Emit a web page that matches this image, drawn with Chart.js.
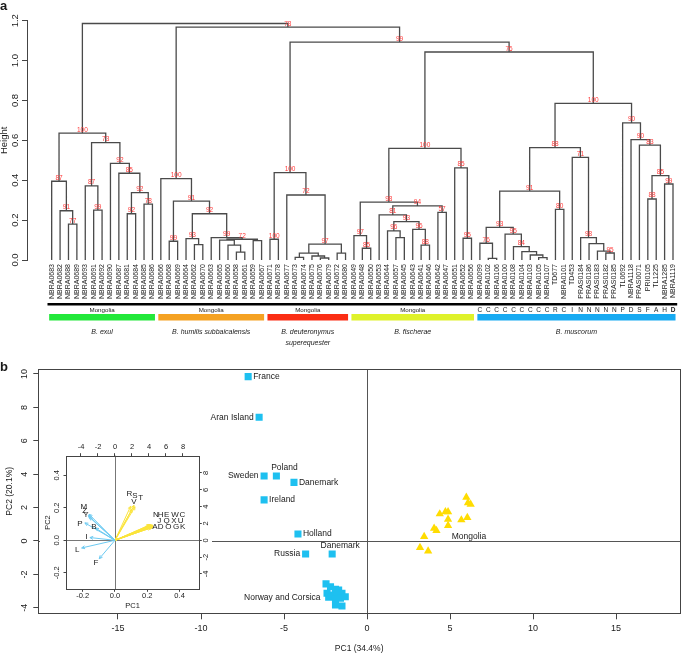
<!DOCTYPE html>
<html>
<head>
<meta charset="utf-8">
<script src="https://cdn.jsdelivr.net/npm/chart.js@4.4.0/dist/chart.umd.min.js"></script>
<style>
  html, body { margin: 0; padding: 0; background: #fff; }
  #wrap { position: relative; width: 685px; height: 654px; overflow: hidden; }
  canvas { position: absolute; }
  #dendro { left: 0; top: 0; }
  #pca { left: 0; top: 360px; }
  #inset { left: 40px; top: 430px; }
</style>
</head>
<body>
<div id="wrap">
  <canvas id="dendro" width="685" height="360"></canvas>
  <canvas id="pca" width="685" height="294"></canvas>
  <canvas id="inset" width="172" height="180"></canvas>
</div>
<script>
const FONT = '"Liberation Sans", Arial, Helvetica, sans-serif';

// ---------- panel a : dendrogram ----------
const leafLabels = [
  'NBRA0683', 'NBRA0682', 'NBRA0688', 'NBRA0689', 'NBRA0693', 'NBRA0691', 'NBRA0692', 'NBRA0690', 'NBRA0687', 'NBRA0681', 'NBRA0684', 'NBRA0685', 'NBRA0686',
  'NBRA0666', 'NBRA0668', 'NBRA0669', 'NBRA0664', 'NBRA0662', 'NBRA0670', 'NBRA0663', 'NBRA0665', 'NBRA0660', 'NBRA0658', 'NBRA0661', 'NBRA0659', 'NBRA0667',
  'NBRA0671', 'NBRA0678', 'NBRA0677', 'NBRA0673', 'NBRA0674', 'NBRA0675', 'NBRA0676', 'NBRA0679', 'NBRA0672', 'NBRA0680',
  'NBRA0649', 'NBRA0648', 'NBRA0650', 'NBRA0653', 'NBRA0644', 'NBRA0657', 'NBRA0645', 'NBRA0643', 'NBRA0641', 'NBRA0646', 'NBRA0642', 'NBRA0647', 'NBRA0651', 'NBRA0652', 'NBRA0656',
  'NBRA0099', 'NBRA0102', 'NBRA0106', 'NBRA0100', 'NBRA0108', 'NBRA0104', 'NBRA0103', 'NBRA0105', 'NBRA0107', 'TD677', 'NBRA0101', 'TD453',
  'PRAS0184', 'PRAS0186', 'PRAS0183', 'PRAS0182', 'PRAS0185', 'TL0692', 'NBRA1118', 'PRAS0071', 'PRI0105', 'TL1225', 'NBRA1285', 'NBRA1119'
];

const groupNames = ['B. exul', 'B. humilis subbaicalensis', 'B. deuteronymus\nsuperequester', 'B. fischerae', 'B. muscorum'];
const groupSizes = [13, 13, 10, 15, 24];
const groupOrigin = ['Mongolia', 'Mongolia', 'Mongolia', 'Mongolia', null];
const muscorumCodes = ['C', 'C', 'C', 'C', 'C', 'C', 'C', 'C', 'C', 'R', 'C', 'I', 'N', 'N', 'N', 'N', 'N', 'P', 'D', 'S', 'F', 'A', 'H', 'D'];

const heightTicks = [0, 0.2, 0.4, 0.6, 0.8, 1.0, 1.2];
const heightTickLabels = ['0.0', '0.2', '0.4', '0.6', '0.8', '1.0', '1.2'];

// [left, right, height, AU]; a child is a leaf label or the index of an earlier merge
const merges = [
  ['NBRA0688', 'NBRA0689', 0.180, 77],
  ['NBRA0682', 0, 0.247, 91],
  ['NBRA0683', 1, 0.395, 87],
  ['NBRA0691', 'NBRA0692', 0.250, 99],
  ['NBRA0693', 3, 0.372, 87],
  ['NBRA0681', 'NBRA0684', 0.232, 92],
  ['NBRA0685', 'NBRA0686', 0.280, 78],
  [5, 6, 0.338, 92],
  ['NBRA0687', 7, 0.435, 85],
  ['NBRA0690', 8, 0.485, 92],
  [4, 9, 0.589, 73],
  [2, 10, 0.636, 100],
  ['NBRA0668', 'NBRA0669', 0.094, 99],
  ['NBRA0662', 'NBRA0670', 0.077, null],
  ['NBRA0664', 13, 0.107, 93],
  ['NBRA0658', 'NBRA0661', 0.039, null],
  ['NBRA0660', 15, 0.075, null],
  ['NBRA0665', 16, 0.100, null],
  ['NBRA0659', 'NBRA0667', 0.097, null],
  [17, 18, 0.104, 72],
  ['NBRA0663', 19, 0.112, 99],
  [14, 20, 0.232, 92],
  [12, 21, 0.295, 91],
  ['NBRA0666', 22, 0.408, 100],
  ['NBRA0671', 'NBRA0678', 0.104, 100],
  ['NBRA0673', 'NBRA0674', 0.013, null],
  ['NBRA0676', 'NBRA0679', 0.010, null],
  ['NBRA0675', 26, 0.020, null],
  [25, 27, 0.034, null],
  ['NBRA0672', 'NBRA0680', 0.034, null],
  [28, 29, 0.080, 97],
  ['NBRA0677', 30, 0.326, 72],
  [24, 31, 0.438, 100],
  ['NBRA0648', 'NBRA0650', 0.059, 85],
  ['NBRA0649', 33, 0.122, 97],
  ['NBRA0657', 'NBRA0645', 0.112, null],
  ['NBRA0644', 35, 0.146, 96],
  ['NBRA0641', 'NBRA0646', 0.075, 88],
  ['NBRA0643', 37, 0.154, 96],
  [36, 38, 0.192, 93],
  ['NBRA0653', 39, 0.226, 81],
  ['NBRA0642', 'NBRA0647', 0.239, 57],
  [40, 41, 0.271, 94],
  [34, 42, 0.290, 98],
  ['NBRA0652', 'NBRA0656', 0.109, 95],
  ['NBRA0651', 44, 0.462, 85],
  [43, 45, 0.560, 100],
  ['NBRA0102', 'NBRA0106', 0.008, null],
  ['NBRA0099', 47, 0.084, 76],
  ['NBRA0105', 'NBRA0107', 0.012, null],
  ['NBRA0103', 49, 0.025, null],
  ['NBRA0104', 50, 0.042, null],
  ['NBRA0108', 51, 0.067, 84],
  ['NBRA0100', 52, 0.130, 95],
  [48, 53, 0.164, 93],
  ['TD677', 'NBRA0101', 0.254, 80],
  [54, 55, 0.345, 91],
  ['PRAS0182', 'PRAS0185', 0.035, 95],
  ['PRAS0183', 57, 0.045, null],
  ['PRAS0186', 58, 0.082, null],
  ['PRAS0184', 59, 0.112, 98],
  ['TD453', 60, 0.515, 71],
  [56, 61, 0.564, 88],
  ['PRI0105', 'TL1225', 0.306, 88],
  ['NBRA1285', 'NBRA1119', 0.381, 99],
  [63, 64, 0.423, 85],
  ['PRAS0071', 65, 0.576, 83],
  ['NBRA1118', 66, 0.604, 90],
  ['TL0692', 67, 0.688, 90],
  [62, 68, 0.785, 100],
  [46, 69, 1.043, 76],
  [32, 70, 1.093, 99],
  [23, 71, 1.168, 78],
  [11, 72, 1.186, null]
];

// ---------- panel b : PCA ----------
const pc1Ticks = [-15, -10, -5, 0, 5, 10, 15];
const pc2Ticks = [-4, -2, 0, 2, 4, 6, 8, 10];

const siteNames = ['France', 'Aran Island', 'Sweden', 'Poland', 'Danemark', 'Ireland', 'Holland', 'Russia', 'Danemark'];
const sitePC1 = [-7.16, -6.50, -6.20, -5.46, -4.40, -6.20, -4.16, -3.70, -2.10];
const sitePC2 = [9.84, 7.41, 3.89, 3.89, 3.51, 2.46, 0.42, -0.78, -0.78];

const norCorPC1 = [-2.47, -2.20, -1.90, -1.71, -2.41, -2.11, -1.81, -1.51, -2.31, -1.90, -1.60, -1.31, -1.90, -1.51];
const norCorPC2 = [-2.57, -2.74, -2.89, -2.93, -3.13, -3.23, -3.23, -3.13, -3.37, -3.49, -3.43, -3.34, -3.83, -3.89];

const mongoliaPC1 = [5.98, 6.08, 6.24, 4.38, 4.72, 4.88, 4.88, 5.68, 6.04, 4.88, 4.04, 4.18, 3.44, 3.19, 3.68];
const mongoliaPC2 = [2.62, 2.29, 2.20, 1.62, 1.75, 1.75, 1.30, 1.26, 1.40, 0.92, 0.76, 0.62, 0.26, -0.40, -0.60];

const clusterLabels = ['Norway and Corsica', 'Mongolia'];
const clusterLabelPC1 = [-2.8, 6.14];
const clusterLabelPC2 = [-3.41, 0.26];

// ---------- inset : biplot loadings ----------
const loadTicks = [-0.2, 0, 0.2, 0.4];
const scoreTicks = [-4, -2, 0, 2, 4, 6, 8];

const blueLetters = ['M', 'Z', 'Y', 'P', 'B', 'I', 'L', 'F'];
const blueLoadPC1 = [-0.160, -0.165, -0.158, -0.186, -0.120, -0.155, -0.206, -0.097];
const blueLoadPC2 = [0.160, 0.152, 0.142, 0.107, 0.075, 0.017, -0.047, -0.113];
const blueTextPC1 = [-0.192, -0.188, -0.180, -0.217, -0.130, -0.175, -0.233, -0.118];
const blueTextPC2 = [0.209, 0.180, 0.160, 0.103, 0.082, 0.020, -0.057, -0.140];

const yellowLetters = ['R', 'S', 'T', 'V', 'N', 'H', 'E', 'W', 'C', 'J', 'Q', 'X', 'U', 'A', 'D', 'O', 'G', 'K'];
const yellowLoadPC1 = [0.097, 0.118, 0.124, 0.106, 0.214, 0.221, 0.226, 0.232, 0.236, 0.212, 0.219, 0.225, 0.230, 0.206, 0.213, 0.220, 0.228, 0.235];
const yellowLoadPC2 = [0.209, 0.215, 0.206, 0.190, 0.094, 0.096, 0.092, 0.094, 0.090, 0.086, 0.088, 0.085, 0.087, 0.078, 0.080, 0.076, 0.079, 0.082];
const yellowTextPC1 = [0.089, 0.124, 0.159, 0.118, 0.254, 0.283, 0.320, 0.372, 0.417, 0.274, 0.320, 0.365, 0.407, 0.248, 0.283, 0.330, 0.378, 0.419];
const yellowTextPC2 = [0.287, 0.271, 0.263, 0.236, 0.154, 0.154, 0.154, 0.154, 0.154, 0.117, 0.117, 0.117, 0.117, 0.082, 0.082, 0.082, 0.082, 0.082];

// ---------- helpers ----------
const groupColors = ['#22e83a', '#f5a222', '#fb2d14', '#dff22a', '#17aaf2'];
const BLUE = '#1ec0f0';
const GOLD = '#ffdc00';
const TEXT = '#1a1a1a';

const fixedTicks = (vals) => (scale) => { scale.ticks = vals.map(v => ({ value: v })); };

function rotatedText(ctx, text, x, y) {
  ctx.save();
  ctx.translate(x, y);
  ctx.rotate(-Math.PI / 2);
  ctx.fillText(text, 0, 0);
  ctx.restore();
}

const baseOptions = {
  responsive: false,
  animation: false,
  devicePixelRatio: 1,
  events: [],
  plugins: { legend: { display: false }, tooltip: { enabled: false } }
};

// ---------- dendrogram geometry from merges ----------
const leafIndex = {};
leafLabels.forEach((l, i) => { leafIndex[l] = i; });
const nodeX = [];
function childPos(c) {
  return typeof c === 'string' ? [leafIndex[c], 0] : [nodeX[c], merges[c][2]];
}
const linkPoints = [];
merges.forEach(([a, b, h], k) => {
  const [xa, ha] = childPos(a);
  const [xb, hb] = childPos(b);
  nodeX[k] = (xa + xb) / 2;
  linkPoints.push({ x: xa, y: ha }, { x: xa, y: h }, { x: xb, y: h }, { x: xb, y: hb }, { x: xb, y: null });
});

const dendroDecor = {
  id: 'dendroDecor',
  afterDatasetsDraw(chart) {
    const { ctx, scales: { x, y } } = chart;
    ctx.save();
    ctx.fillStyle = TEXT;
    ctx.textAlign = 'center';
    ctx.textBaseline = 'middle';

    ctx.font = `bold 13px ${FONT}`;
    ctx.textAlign = 'left';
    ctx.fillText('a', 0, 6);

    ctx.textAlign = 'center';
    ctx.font = `9.5px ${FONT}`;
    heightTicks.forEach((v, i) => rotatedText(ctx, heightTickLabels[i], 15, y.getPixelForValue(v)));

    // AU support values
    ctx.fillStyle = '#ff3a3a';
    ctx.font = `6.5px ${FONT}`;
    ctx.textBaseline = 'alphabetic';
    merges.forEach((m, k) => {
      if (m[3] == null) return;
      ctx.fillText(String(m[3]), x.getPixelForValue(nodeX[k]), y.getPixelForValue(m[2]) - 1.5);
    });

    // leaf labels
    ctx.fillStyle = TEXT;
    ctx.font = `7px ${FONT}`;
    ctx.textAlign = 'right';
    ctx.textBaseline = 'middle';
    const y0 = y.getPixelForValue(0);
    leafLabels.forEach((l, i) => rotatedText(ctx, l, x.getPixelForValue(i), y0 + 4));

    // black rule under the labels
    ctx.fillStyle = '#000';
    const ruleL = x.getPixelForValue(-0.5), ruleR = x.getPixelForValue(leafLabels.length - 0.5);
    ctx.fillRect(ruleL, 303, ruleR - ruleL, 2.5);

    // group bars and names
    ctx.textAlign = 'center';
    let start = 0;
    groupSizes.forEach((n, g) => {
      const end = start + n - 1;
      const left = x.getPixelForValue(start - 0.3), right = x.getPixelForValue(end + 0.3);
      const mid = (left + right) / 2;
      ctx.fillStyle = groupColors[g];
      ctx.fillRect(left, 314, right - left, 6.5);
      ctx.fillStyle = TEXT;
      if (groupOrigin[g]) {
        ctx.font = `6.2px ${FONT}`;
        ctx.fillText(groupOrigin[g], mid, 310);
      } else {
        muscorumCodes.forEach((c, i) => {
          ctx.font = (i === muscorumCodes.length - 1 ? 'bold ' : '') + `6.5px ${FONT}`;
          ctx.fillText(c, x.getPixelForValue(start + i), 310);
        });
      }
      ctx.font = `italic 7px ${FONT}`;
      groupNames[g].split('\n').forEach((line, j) => ctx.fillText(line, mid, 332 + j * 11));
      start += n;
    });
    ctx.restore();
  }
};

new Chart(document.getElementById('dendro'), {
  type: 'scatter',
  data: {
    datasets: [{
      data: linkPoints,
      showLine: true,
      spanGaps: false,
      borderColor: '#4a4a4a',
      borderWidth: 1.3,
      pointRadius: 0,
      clip: false
    }]
  },
  options: {
    ...baseOptions,
    layout: { padding: { left: 0, right: 7.8, top: 20.7, bottom: 100 } },
    scales: {
      x: { type: 'linear', display: false, min: -2.94, max: 74.5 },
      y: {
        type: 'linear', min: 0, max: 1.2,
        afterFit: (s) => { s.width = 27; },
        afterBuildTicks: fixedTicks(heightTicks),
        ticks: { display: false, autoSkip: false },
        grid: { drawOnChartArea: false, drawTicks: true, tickLength: 5, color: '#444' },
        border: { display: true, color: '#444', width: 1 },
        title: { display: true, text: 'Height', color: TEXT, padding: { top: 0, bottom: 0 }, font: { family: FONT, size: 9.5, lineHeight: 1 } }
      }
    }
  },
  plugins: [dendroDecor]
});

// ---------- panel b ----------
const siteLabelSide = ['right', 'left', 'left', 'above', 'right', 'right', 'right', 'left', 'above'];

const pcaDecor = {
  id: 'pcaDecor',
  beforeDatasetsDraw(chart) {
    const { ctx, chartArea: a, scales: { x, y } } = chart;
    ctx.save();
    ctx.strokeStyle = '#555';
    ctx.lineWidth = 1;
    const x0 = Math.round(x.getPixelForValue(0)) + 0.5;
    const y0 = Math.round(y.getPixelForValue(0)) + 0.5;
    ctx.beginPath();
    ctx.moveTo(x0, a.top); ctx.lineTo(x0, a.bottom);
    ctx.moveTo(a.left, y0); ctx.lineTo(a.right, y0);
    ctx.stroke();
    ctx.strokeStyle = '#444';
    const l = Math.round(a.left) + 0.5, t = Math.round(a.top) + 0.5;
    ctx.strokeRect(l, t, Math.round(a.right) - Math.round(a.left), Math.round(a.bottom) - Math.round(a.top));
    ctx.restore();
  },
  afterDatasetsDraw(chart) {
    const { ctx, scales: { x, y } } = chart;
    ctx.save();
    ctx.fillStyle = TEXT;
    ctx.textBaseline = 'middle';
    ctx.font = `bold 13px ${FONT}`;
    ctx.textAlign = 'left';
    ctx.fillText('b', 0, 7);

    ctx.font = `9px ${FONT}`;
    ctx.textAlign = 'center';
    pc2Ticks.forEach(v => rotatedText(ctx, String(v), 25, y.getPixelForValue(v)));

    ctx.font = `8.5px ${FONT}`;
    siteNames.forEach((name, i) => {
      const px = x.getPixelForValue(sitePC1[i]), py = y.getPixelForValue(sitePC2[i]);
      const side = siteLabelSide[i];
      if (side === 'right') { ctx.textAlign = 'left'; ctx.fillText(name, px + 5, py); }
      else if (side === 'left') { ctx.textAlign = 'right'; ctx.fillText(name, px - 5.5, py); }
      else { ctx.textAlign = 'center'; ctx.fillText(name, px + 8, py - 8); }
    });
    ctx.textAlign = 'right';
    ctx.fillText(clusterLabels[0], x.getPixelForValue(clusterLabelPC1[0]), y.getPixelForValue(clusterLabelPC2[0]));
    ctx.textAlign = 'center';
    ctx.fillText(clusterLabels[1], x.getPixelForValue(clusterLabelPC1[1]), y.getPixelForValue(clusterLabelPC2[1]));
    ctx.restore();
  }
};

const toPoints = (xs, ys) => xs.map((v, i) => ({ x: v, y: ys[i] }));

new Chart(document.getElementById('pca'), {
  type: 'scatter',
  data: {
    datasets: [
      {
        label: 'Mongolia',
        data: toPoints(mongoliaPC1, mongoliaPC2),
        pointStyle: 'triangle', pointRadius: 4.8,
        backgroundColor: GOLD, borderColor: GOLD, borderWidth: 0
      },
      {
        label: 'Europe',
        data: toPoints(sitePC1, sitePC2).concat(toPoints(norCorPC1, norCorPC2)),
        pointStyle: 'rect', pointRadius: 5,
        backgroundColor: BLUE, borderColor: BLUE, borderWidth: 0
      }
    ]
  },
  options: {
    ...baseOptions,
    layout: { padding: { left: 0, right: 1.7, top: 9.3, bottom: 0 } },
    scales: {
      x: {
        type: 'linear', min: -19.8, max: 18.85,
        afterFit: (s) => { s.height = 40.7; },
        afterBuildTicks: fixedTicks(pc1Ticks),
        ticks: { autoSkip: false, maxRotation: 0, padding: 4, color: TEXT, font: { family: FONT, size: 9 }, callback: (v) => String(v) },
        grid: { drawOnChartArea: false, drawTicks: true, tickLength: 6, color: '#444' },
        border: { display: false },
        title: { display: true, text: 'PC1 (34.4%)', color: TEXT, padding: { top: 0, bottom: 0 }, font: { family: FONT, size: 8.5, lineHeight: 1.2 } }
      },
      y: {
        type: 'linear', min: -4.33, max: 10.28,
        afterFit: (s) => { s.width = 38.3; },
        afterBuildTicks: fixedTicks(pc2Ticks),
        ticks: { display: false, autoSkip: false },
        grid: { drawOnChartArea: false, drawTicks: true, tickLength: 5, color: '#444' },
        border: { display: false },
        title: { display: true, text: 'PC2 (20.1%)', color: TEXT, padding: { top: 5, bottom: 0 }, font: { family: FONT, size: 8.5, lineHeight: 1.2 } }
      }
    }
  },
  plugins: [pcaDecor]
});

// ---------- inset biplot ----------
function arrowPoints(xs, ys) {
  const pts = [];
  xs.forEach((v, i) => { pts.push({ x: 0, y: 0 }, { x: v, y: ys[i] }, { x: v, y: null }); });
  return pts;
}

const insetDecor = {
  id: 'insetDecor',
  beforeDraw(chart) {
    const { ctx, width, height } = chart;
    ctx.save();
    ctx.fillStyle = '#fff';
    ctx.fillRect(0, 0, width, height);
    ctx.restore();
  },
  beforeDatasetsDraw(chart) {
    const { ctx, chartArea: a, scales: { x, y } } = chart;
    ctx.save();
    ctx.strokeStyle = '#777';
    ctx.lineWidth = 1;
    const x0 = Math.round(x.getPixelForValue(0)) + 0.5;
    const y0 = Math.round(y.getPixelForValue(0)) + 0.5;
    ctx.beginPath();
    ctx.moveTo(x0, a.top); ctx.lineTo(x0, a.bottom);
    ctx.moveTo(a.left, y0); ctx.lineTo(a.right, y0);
    ctx.stroke();
    ctx.strokeStyle = '#444';
    const l = Math.round(a.left) + 0.5, t = Math.round(a.top) + 0.5;
    ctx.strokeRect(l, t, Math.round(a.right) - Math.round(a.left), Math.round(a.bottom) - Math.round(a.top));
    ctx.restore();
  },
  afterDatasetsDraw(chart) {
    const { ctx, scales: { x, y, y2 } } = chart;
    const ox = x.getPixelForValue(0), oy = y.getPixelForValue(0);
    ctx.save();
    ctx.lineWidth = 1;
    const heads = (xs, ys, color) => {
      ctx.strokeStyle = color;
      ctx.beginPath();
      xs.forEach((v, i) => {
        const px = x.getPixelForValue(v), py = y.getPixelForValue(ys[i]);
        const ang = Math.atan2(py - oy, px - ox);
        const L = 3.5, s = Math.PI / 7;
        ctx.moveTo(px - L * Math.cos(ang - s), py - L * Math.sin(ang - s));
        ctx.lineTo(px, py);
        ctx.lineTo(px - L * Math.cos(ang + s), py - L * Math.sin(ang + s));
      });
      ctx.stroke();
    };
    heads(blueLoadPC1, blueLoadPC2, '#6ccaf2');
    heads(yellowLoadPC1, yellowLoadPC2, '#fbe43a');

    ctx.fillStyle = TEXT;
    ctx.textAlign = 'center';
    ctx.textBaseline = 'middle';
    ctx.font = `8px ${FONT}`;
    blueLetters.forEach((c, i) => ctx.fillText(c, x.getPixelForValue(blueTextPC1[i]), y.getPixelForValue(blueTextPC2[i])));
    yellowLetters.forEach((c, i) => ctx.fillText(c, x.getPixelForValue(yellowTextPC1[i]), y.getPixelForValue(yellowTextPC2[i])));

    ctx.font = `7.5px ${FONT}`;
    loadTicks.forEach(v => rotatedText(ctx, v.toFixed(1), 17, y.getPixelForValue(v)));
    scoreTicks.forEach(v => rotatedText(ctx, String(v), 165.5, y2.getPixelForValue(v)));
    ctx.restore();
  }
};

const insetAxis = (extra) => Object.assign({
  type: 'linear',
  ticks: { autoSkip: false, maxRotation: 0, color: TEXT, font: { family: FONT, size: 7.5 } },
  grid: { drawOnChartArea: false, drawTicks: true, tickLength: 2.5, color: '#444' },
  border: { display: false }
}, extra);

new Chart(document.getElementById('inset'), {
  type: 'scatter',
  data: {
    datasets: [
      { data: arrowPoints(blueLoadPC1, blueLoadPC2), showLine: true, spanGaps: false, borderColor: '#6ccaf2', borderWidth: 1, pointRadius: 0 },
      { data: arrowPoints(yellowLoadPC1, yellowLoadPC2), showLine: true, spanGaps: false, borderColor: '#fbe43a', borderWidth: 1, pointRadius: 0 }
    ]
  },
  options: {
    ...baseOptions,
    layout: { padding: 0 },
    scales: {
      x: insetAxis({
        position: 'bottom', min: -0.303, max: 0.522,
        afterFit: (s) => { s.height = 20.7; },
        afterBuildTicks: fixedTicks(loadTicks),
        ticks: { autoSkip: false, maxRotation: 0, padding: 0, color: TEXT, font: { family: FONT, size: 7.5 }, callback: (v) => v.toFixed(1) },
        title: { display: true, text: 'PC1', color: TEXT, padding: { top: 0, bottom: 0 }, font: { family: FONT, size: 7.5, lineHeight: 1 } }
      }),
      x2: insetAxis({
        position: 'top', min: -5.76, max: 9.92,
        afterFit: (s) => { s.height = 25.7; },
        afterBuildTicks: fixedTicks(scoreTicks),
        ticks: { autoSkip: false, maxRotation: 0, padding: 2, color: TEXT, font: { family: FONT, size: 7.5 }, callback: (v) => String(v) }
      }),
      y: insetAxis({
        position: 'left', min: -0.3015, max: 0.5206,
        afterFit: (s) => { s.width = 26; },
        afterBuildTicks: fixedTicks(loadTicks),
        ticks: { display: false, autoSkip: false },
        title: { display: true, text: 'PC2', color: TEXT, padding: { top: 3.5, bottom: 0 }, font: { family: FONT, size: 7.5, lineHeight: 1.2 } }
      }),
      y2: insetAxis({
        position: 'right', min: -5.82, max: 10.05,
        afterFit: (s) => { s.width = 12.7; },
        afterBuildTicks: fixedTicks(scoreTicks),
        ticks: { display: false, autoSkip: false }
      })
    }
  },
  plugins: [insetDecor]
});
</script>
</body>
</html>
